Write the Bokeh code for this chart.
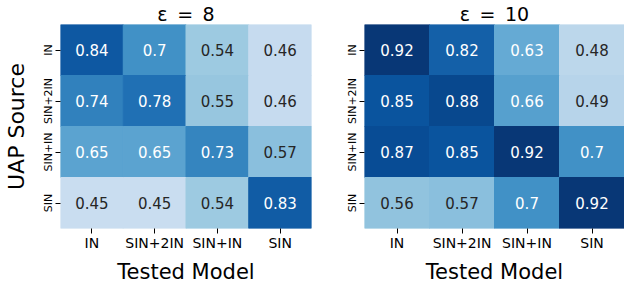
import numpy as np
from bokeh.plotting import figure
from bokeh.layouts import row
from bokeh.models import ColumnDataSource, LinearColorMapper, FactorRange
from bokeh.palettes import Blues9
from bokeh.transform import transform
from bokeh.core.properties import value
from bokeh.embed import file_html
from bokeh.resources import INLINE

# ---- data ----
models = ["IN", "SIN+2IN", "SIN+IN", "SIN"]          # tested model (x) and UAP source (y), top to bottom
eps8_in = [0.84, 0.70, 0.54, 0.46]
eps8_sin2in = [0.74, 0.78, 0.55, 0.46]
eps8_sinin = [0.65, 0.65, 0.73, 0.57]
eps8_sin = [0.45, 0.45, 0.54, 0.83]
eps10_in = [0.92, 0.82, 0.63, 0.48]
eps10_sin2in = [0.85, 0.88, 0.66, 0.49]
eps10_sinin = [0.87, 0.85, 0.92, 0.70]
eps10_sin = [0.56, 0.57, 0.70, 0.92]
titles = ["\u03b5\u2002=\u20028", "\u03b5\u2002=\u200210"]
vmin, vmax = 0.30, 0.94

FONT = "DejaVu Sans"

# Blues colormap, light -> dark
anchors = list(reversed(Blues9))
def h2r(h):
    h = h.lstrip("#")
    return np.array([int(h[i:i + 2], 16) for i in (0, 2, 4)], dtype=float)
arr = np.array([h2r(a) for a in anchors])
pos = np.linspace(0, 1, len(anchors))
t = np.linspace(0, 1, 256)
rgb = np.stack([np.interp(t, pos, arr[:, k]) for k in range(3)], axis=1)
palette = ["#%02x%02x%02x" % tuple(int(round(c)) for c in r) for r in rgb]
mapper = LinearColorMapper(palette=palette, low=vmin, high=vmax)

def text_color(v):
    idx = int(np.clip((v - vmin) / (vmax - vmin) * 256, 0, 255))
    c = rgb[idx] / 255.0
    lin = np.where(c <= 0.03928, c / 12.92, ((c + 0.055) / 1.055) ** 2.4)
    lum = 0.2126 * lin[0] + 0.7152 * lin[1] + 0.0722 * lin[2]
    return "#262626" if lum > 0.408 else "#ffffff"

def make(rows, title, width, bl, br, ylabel):
    xs, ys, vs = [], [], []
    for src_name, vals in zip(models, rows):
        for m, v in zip(models, vals):
            xs.append(m); ys.append(src_name); vs.append(v)
    src = ColumnDataSource(dict(x=xs, y=ys, v=vs,
                                tc=[text_color(v) for v in vs],
                                lab=[f"{v:.2g}" for v in vs]))
    p = figure(x_range=FactorRange(*models), y_range=FactorRange(*reversed(models)),
               width=width, height=288, output_backend="svg", toolbar_location=None,
               min_border_left=bl, min_border_right=br, min_border_top=15,
               min_border_bottom=60, title=title)
    p.rect("x", "y", 1, 1, source=src, fill_color=transform("v", mapper),
           line_color=transform("v", mapper), line_width=1)
    p.text("x", "y", text="lab", source=src, text_color="tc", text_align="center",
           text_baseline="middle", text_font=value(FONT), text_font_size=value("15px"))
    p.outline_line_color = None
    p.grid.visible = False
    p.title.align = "center"
    p.title.text_font = FONT
    p.title.text_font_size = "19px"
    p.title.text_font_style = "normal"
    p.title.text_color = "#000000"
    p.title.standoff = 0
    for ax in (p.xaxis[0], p.yaxis[0]):
        ax.axis_line_color = None
        ax.major_tick_out = 5
        ax.major_tick_in = 0
        ax.major_tick_line_color = "#000000"
        ax.major_label_text_font = FONT
        ax.major_label_text_color = "#000000"
        ax.axis_label_text_font = FONT
        ax.axis_label_text_font_style = "normal"
        ax.axis_label_text_color = "#000000"
    p.xaxis.major_label_text_font_size = "14px"
    p.xaxis.major_label_standoff = 1
    p.xaxis.axis_label = "Tested Model"
    p.xaxis.axis_label_text_font_size = "21px"
    p.xaxis.axis_label_standoff = 6
    p.yaxis.major_label_text_font_size = "11px"
    p.yaxis.major_label_orientation = "vertical"
    p.yaxis.major_label_standoff = 1
    if ylabel:
        p.yaxis.axis_label = ylabel
        p.yaxis.axis_label_text_font_size = "22px"
        p.yaxis.axis_label_standoff = 10
    return p

p1 = make([eps8_in, eps8_sin2in, eps8_sinin, eps8_sin], titles[0], 325, 50, 14, "UAP Source")
p2 = make([eps10_in, eps10_sin2in, eps10_sinin, eps10_sin], titles[1], 299, 39, 0, None)

layout = row(p1, p2)
open("out.html", "w").write(file_html(layout, INLINE))
